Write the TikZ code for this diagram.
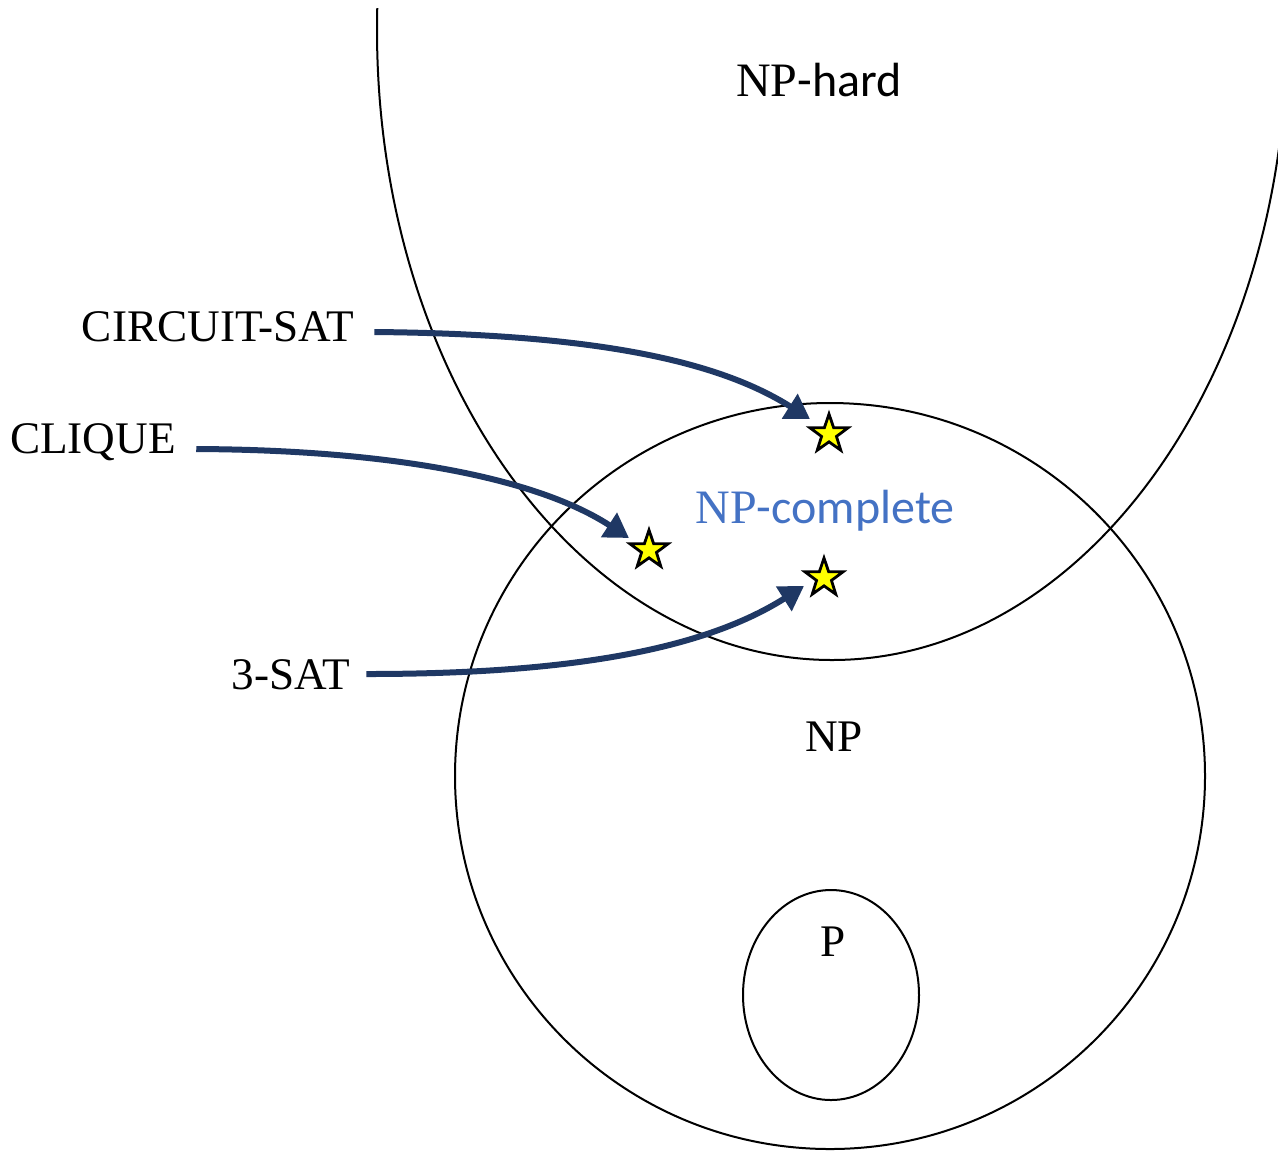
\documentclass[tikz,border=0pt]{standalone}
\usepackage{fontspec}
\setmainfont{Liberation Serif}
\newfontfamily\calib{Carlito}
\usetikzlibrary{arrows.meta,shapes.geometric}
\definecolor{navy}{HTML}{1F3864}
\definecolor{npblue}{HTML}{4472C4}
\definecolor{staryellow}{HTML}{FFFF00}
\begin{document}
\begin{tikzpicture}[x=0.5pt,y=-0.5pt,
  setline/.style={line width=1pt,black},
  redarrow/.style={line width=3pt,navy,-{Triangle[length=12pt,width=14pt]}},
  problem/.style={star,star points=5,star point ratio=2.55,minimum size=20pt,inner sep=0pt,
                  fill=staryellow,draw=black,line width=1.4pt},
  lbl/.style={inner sep=0pt,font=\fontsize{22.6}{26}\selectfont},
  slbl/.style={inner sep=0pt,font=\fontsize{24}{28}\selectfont}]
\useasboundingbox (0,0) rectangle (1278,1153);

% NP-hard region: lower part of a tall ellipse, cut at the top edge
\begin{scope}
  \clip (0,8) rectangle (1278,1153);
  \draw[setline] (832,30) ellipse [x radius=455, y radius=630];
\end{scope}

% NP and P
\draw[setline] (830,776) ellipse [x radius=375, y radius=373];
\draw[setline] (831,995) ellipse [x radius=88, y radius=105];

% labels of the classes
\node[slbl] (nphard) at (819,80) {NP{\calib -hard}};
\node[slbl,text=npblue] (npc) at (825,511) {NP{\calib -complete}};
\node[lbl] (np) at (834,737) {NP};
\node[lbl] (p) at (833,942) {P};

% NP-complete problems
\node[problem] (s1) at (829,434) {};
\node[problem] (s2) at (649,550) {};
\node[problem] (s3) at (824,578) {};

% problem names
\node[lbl] (circ) at (218,327) {CIRCUIT-SAT};
\node[lbl] (clique) at (93,442) {CLIQUE};
\node[lbl] (sat) at (291,675) {3-SAT};

\coordinate (t1) at (810,419);
\coordinate (t2) at (629,538);
\coordinate (t3) at (804,586);

\draw[redarrow] (circ.east) ++(20,5) coordinate (c0) (c0) .. controls (600,334) and (720,362) .. (t1);
\draw[redarrow] (clique.east) ++(20,7) coordinate (q0) (q0) .. controls (400,450) and (540,480) .. (t2);
\draw[redarrow] (sat.east) ++(16,-1) coordinate (a0) (a0) .. controls (560,674) and (700,652) .. (t3);
\end{tikzpicture}
\end{document}
